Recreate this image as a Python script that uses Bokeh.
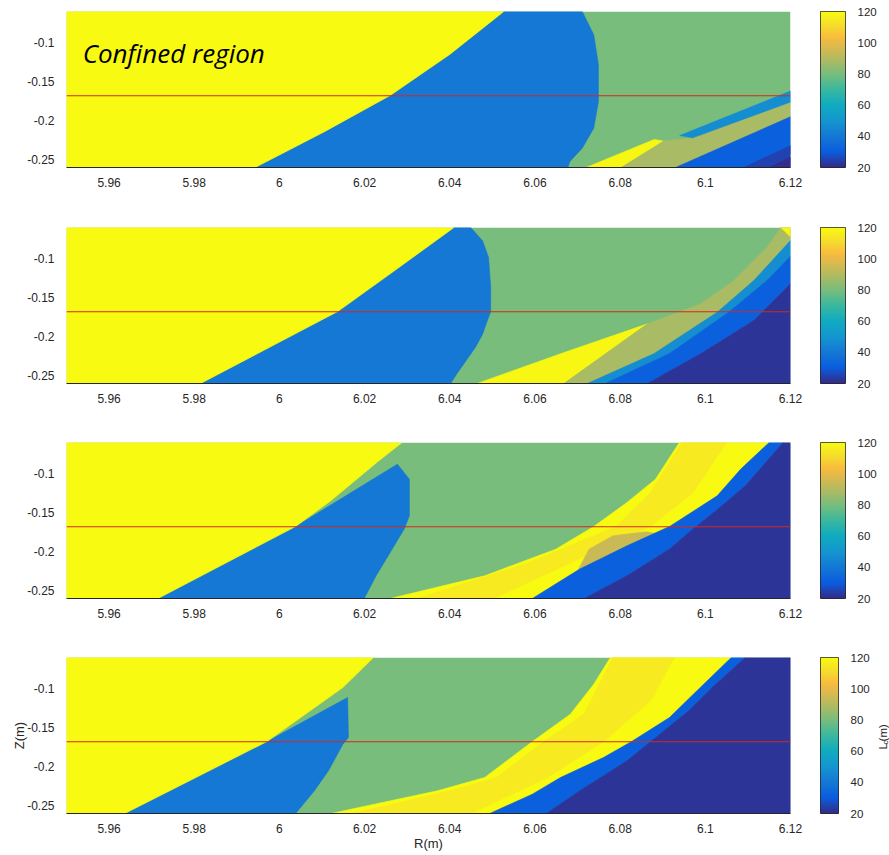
import numpy as np
from bokeh.plotting import figure
from bokeh.layouts import column, row
from bokeh.models import (ColumnDataSource, LinearColorMapper, FixedTicker,
                          Span, Label, CustomJSTickFormatter, Range1d)
from bokeh.core.properties import value
from bokeh.transform import transform
from bokeh.embed import file_html
from bokeh.resources import INLINE

# ---------------- data ----------------
R_RANGE = (5.95, 6.12)
Z_RANGE = (-0.26, -0.06)
R_TICKS = [5.96, 5.98, 6.0, 6.02, 6.04, 6.06, 6.08, 6.1, 6.12]
Z_TICKS = [-0.25, -0.2, -0.15, -0.1]
LC_LOW, LC_HIGH = 20, 120
LC_TICKS = [20, 40, 60, 80, 100, 120]
SEPARATRIX_Z = -0.168
BACKGROUND_LC = 80

# regions per panel: (Lc value, R vertices, Z vertices), painted in order
PANEL1 = [
    (40, [5.9943, 6.0107, 6.0260, 6.0400, 6.0527, 6.0711, 6.0738, 6.0749, 6.0749, 6.0738, 6.0711, 6.0682, 6.0677],
         [-0.26, -0.2137, -0.1677, -0.115, -0.06, -0.06, -0.0899, -0.128, -0.1754, -0.2096, -0.2352, -0.2523, -0.26]),
    (120, [5.95, 6.0527, 6.0400, 6.0260, 6.0107, 5.9943, 5.95],
          [-0.06, -0.06, -0.115, -0.1677, -0.2137, -0.26, -0.26]),
    (88, [6.080, 6.093, 6.12, 6.12, 6.097, 6.090], [-0.26, -0.26, -0.195, -0.176, -0.222, -0.226]),
    (47, [6.094, 6.12, 6.12, 6.097], [-0.219, -0.162, -0.176, -0.222]),
    (119, [6.072, 6.080, 6.090, 6.088], [-0.26, -0.26, -0.226, -0.224]),
    (31, [6.093, 6.112, 6.12, 6.12], [-0.26, -0.26, -0.243, -0.195]),
    (25, [6.109, 6.12, 6.12], [-0.26, -0.26, -0.232]),
    (21, [6.115, 6.12, 6.12], [-0.26, -0.26, -0.247]),
]

PANEL2 = [
    (40, [5.9815, 5.9976, 6.0137, 6.027, 6.0410, 6.0449, 6.0477, 6.0491, 6.0496, 6.0496, 6.0488, 6.0477, 6.0460, 6.0438, 6.0416, 6.0402],
         [-0.26, -0.2138, -0.1677, -0.1155, -0.06, -0.06, -0.0771, -0.0984, -0.1369, -0.1677, -0.1796, -0.1967, -0.2138, -0.2309, -0.2480, -0.26]),
    (120, [5.95, 6.0410, 6.027, 6.0137, 5.9976, 5.9815, 5.95],
          [-0.06, -0.06, -0.1155, -0.1677, -0.2138, -0.26, -0.26]),
    (119, [6.0464, 6.0668, 6.0864, 6.066], [-0.26, -0.26, -0.1835, -0.2219]),
    (88, [6.0668, 6.0723, 6.0879, 6.1028, 6.1114, 6.12, 6.12, 6.1177, 6.1145, 6.1067, 6.0989, 6.0864],
         [-0.26, -0.26, -0.2219, -0.1686, -0.128, -0.0767, -0.06, -0.06, -0.0852, -0.128, -0.1578, -0.1835]),
    (47, [6.0723, 6.0765, 6.0915, 6.1055, 6.1145, 6.12, 6.12, 6.1114, 6.1028, 6.0879],
         [-0.26, -0.26, -0.2219, -0.1686, -0.128, -0.097, -0.0767, -0.128, -0.1686, -0.2219]),
    (31, [6.0765, 6.0864, 6.0989, 6.1114, 6.12, 6.12, 6.1145, 6.1055, 6.0915],
         [-0.26, -0.26, -0.2219, -0.1792, -0.1322, -0.097, -0.128, -0.1686, -0.2219]),
    (22, [6.0864, 6.12, 6.12, 6.1114, 6.0989], [-0.26, -0.26, -0.1322, -0.1792, -0.2219]),
    (119, [6.1177, 6.12, 6.12], [-0.06, -0.06, -0.072]),
]

PANEL3 = [
    (40, [5.9715, 6.0038, 6.0277, 6.0305, 6.0305, 6.0293, 6.0260, 6.0227, 6.0199],
         [-0.26, -0.1677, -0.0878, -0.107, -0.154, -0.171, -0.2009, -0.2308, -0.26]),
    (120, [5.95, 6.0288, 6.0230, 6.0120, 6.0038, 5.9715, 5.95],
          [-0.06, -0.06, -0.085, -0.135, -0.1677, -0.26, -0.26]),
    (120, [6.0260, 6.0594, 6.0705, 6.0816, 6.0916, 6.1028, 6.1083, 6.1150, 6.0939, 6.0883, 6.0816, 6.0738, 6.0649, 6.0482],
          [-0.26, -0.26, -0.2223, -0.1925, -0.1677, -0.1284, -0.0942, -0.06, -0.06, -0.107, -0.1369, -0.1677, -0.1967, -0.2309]),
    (115, [6.0324, 6.058, 6.079, 6.087, 6.0945, 6.105, 6.097, 6.087, 6.070, 6.0503],
          [-0.26, -0.215, -0.168, -0.125, -0.06, -0.06, -0.125, -0.168, -0.21, -0.26]),
    (94, [6.0694, 6.0727, 6.0783, 6.0861, 6.0894, 6.0816, 6.0705],
         [-0.2309, -0.1967, -0.1796, -0.1745, -0.1775, -0.1925, -0.2223]),
    (31, [6.0594, 6.0716, 6.0816, 6.0916, 6.0961, 6.1039, 6.1094, 6.1183, 6.1150, 6.1083, 6.1028, 6.0916, 6.0816, 6.0705],
         [-0.26, -0.26, -0.2309, -0.1967, -0.1754, -0.1412, -0.1155, -0.06, -0.06, -0.0942, -0.1284, -0.1677, -0.1925, -0.2223]),
    (22, [6.0716, 6.12, 6.12, 6.1183, 6.1094, 6.1039, 6.0961, 6.0916, 6.0816],
         [-0.26, -0.26, -0.06, -0.06, -0.1155, -0.1412, -0.1754, -0.1967, -0.2309]),
]

PANEL4 = [
    (40, [5.9637, 5.9971, 6.0160, 6.0162, 6.0149, 6.0115, 6.0082, 6.0038],
         [-0.26, -0.1677, -0.1113, -0.1625, -0.1711, -0.2053, -0.2309, -0.26]),
    (120, [5.95, 6.0221, 6.0149, 5.9971, 5.9637, 5.95],
          [-0.06, -0.06, -0.0985, -0.1677, -0.26, -0.26]),
    (120, [6.0121, 6.0494, 6.0594, 6.066, 6.0761, 6.0827, 6.0916, 6.0972, 6.1061, 6.0777, 6.0738, 6.0683, 6.0594, 6.0482, 6.0371],
          [-0.26, -0.26, -0.2352, -0.2138, -0.1882, -0.1677, -0.1369, -0.107, -0.06, -0.06, -0.0942, -0.1327, -0.1677, -0.2138, -0.2309]),
    (115, [6.0171, 6.040, 6.051, 6.062, 6.0715, 6.0783, 6.0927, 6.0872, 6.0761, 6.063, 6.0449],
          [-0.26, -0.2309, -0.2138, -0.1677, -0.1327, -0.06, -0.06, -0.1155, -0.1677, -0.2138, -0.26]),
    (31, [6.0494, 6.0627, 6.0705, 6.0816, 6.0872, 6.0961, 6.1016, 6.1094, 6.1061, 6.0972, 6.0916, 6.0827, 6.0761, 6.066, 6.0594],
         [-0.26, -0.26, -0.2309, -0.1925, -0.1677, -0.1284, -0.0985, -0.06, -0.06, -0.107, -0.1369, -0.1677, -0.1882, -0.2138, -0.2352]),
    (22, [6.0627, 6.12, 6.12, 6.1094, 6.1016, 6.0961, 6.0872, 6.0816, 6.0705],
         [-0.26, -0.26, -0.06, -0.06, -0.0985, -0.1284, -0.1677, -0.1925, -0.2309]),
]

COLORBAR_LABEL = ["L", "c", "(m)"]

# ---------------- colormap (parula-like) ----------------
PALETTE_POS = [0.0, 0.1, 0.2, 0.3, 0.4, 0.5, 0.6, 0.7, 0.8, 0.85, 0.9, 1.0]
PALETTE_HEX = ["#352a87", "#0a5ddf", "#1478d4", "#1496d0", "#10abc0", "#3ab8a0",
               "#78bd7c", "#b4ba60", "#e8ba48", "#fbc03a", "#f5d830", "#f8fa12"]


def build_palette(n=256):
    rgb = np.array([[int(h[i:i + 2], 16) for i in (1, 3, 5)] for h in PALETTE_HEX], float)
    t = np.linspace(0, 1, n)
    cols = []
    for tt in t:
        r, g, b = (np.interp(tt, PALETTE_POS, rgb[:, k]) for k in range(3))
        cols.append("#%02x%02x%02x" % (int(round(r)), int(round(g)), int(round(b))))
    return cols


mapper = LinearColorMapper(palette=build_palette(), low=LC_LOW, high=LC_HIGH)

TEXT_COLOR = "#262626"
TICK_FONT = "Liberation Sans"
fmt_code = "return String(Number(tick.toFixed(2)));"
MAIN_W = 820


def make_panel(regions, height, top, bottom, last=False):
    p = figure(width=MAIN_W, height=height,
               x_range=Range1d(*R_RANGE), y_range=Range1d(*Z_RANGE),
               output_backend="svg", toolbar_location=None,
               min_border_left=66, min_border_right=30,
               min_border_top=top, min_border_bottom=bottom)
    p.outline_line_color = None
    p.grid.visible = False

    bg = ColumnDataSource(dict(l=[R_RANGE[0]], r=[R_RANGE[1]], b=[Z_RANGE[0]], t=[Z_RANGE[1]], lc=[BACKGROUND_LC]))
    p.quad(left="l", right="r", bottom="b", top="t", source=bg,
           fill_color=transform("lc", mapper), line_color=None)

    src = ColumnDataSource(dict(xs=[r[1] for r in regions], ys=[r[2] for r in regions],
                                lc=[r[0] for r in regions]))
    p.patches("xs", "ys", source=src, fill_color=transform("lc", mapper),
              line_color=transform("lc", mapper), line_width=0.6)

    p.add_layout(Span(location=SEPARATRIX_Z, dimension="width", line_color="#d42a1e", line_width=1.2))

    for ax in (p.xaxis[0], p.yaxis[0]):
        ax.major_tick_line_color = None
        ax.minor_tick_line_color = None
        ax.major_label_text_font = TICK_FONT
        ax.major_label_text_font_size = "12px"
        ax.major_label_text_color = TEXT_COLOR
        ax.formatter = CustomJSTickFormatter(code=fmt_code)
        ax.axis_label_text_font = TICK_FONT
        ax.axis_label_text_font_size = "13px"
        ax.axis_label_text_font_style = "normal"
        ax.axis_label_text_color = TEXT_COLOR
    p.xaxis.ticker = FixedTicker(ticks=R_TICKS)
    p.yaxis.ticker = FixedTicker(ticks=Z_TICKS)
    p.xaxis.axis_line_color = "#262626"
    p.yaxis.axis_line_color = None
    p.xaxis.major_label_standoff = 4
    p.yaxis.major_label_standoff = 6

    if last:
        p.xaxis.axis_label = "R(m)"
        p.yaxis.axis_label = "Z(m)"
        p.xaxis.axis_label_standoff = 0
        p.yaxis.axis_label_standoff = -3
    return p


def make_cbar(width, height, top, bottom):
    c = figure(width=width, height=height, x_range=Range1d(0, 1), y_range=Range1d(LC_LOW, LC_HIGH),
               x_axis_location=None, y_axis_location="right",
               output_backend="svg", toolbar_location=None,
               min_border_left=0, min_border_right=width - 25,
               min_border_top=top, min_border_bottom=bottom)
    c.grid.visible = False
    c.image(image=[np.linspace(LC_LOW, LC_HIGH, 256).reshape(-1, 1)], x=0, y=LC_LOW,
            dw=1, dh=LC_HIGH - LC_LOW, color_mapper=mapper)
    c.outline_line_color = "#262626"
    c.outline_line_width = 1
    ax = c.yaxis[0]
    ax.ticker = FixedTicker(ticks=LC_TICKS)
    ax.major_tick_line_color = None
    ax.minor_tick_line_color = None
    ax.axis_line_color = None
    ax.major_label_standoff = 6
    ax.major_label_text_font = TICK_FONT
    ax.major_label_text_font_size = "11.5px"
    ax.major_label_text_color = TEXT_COLOR
    return c


p1 = make_panel(PANEL1, 215, 11, 48)
p1.add_layout(Label(x=5.9538, y=-0.1126, text="Confined region", text_font="Open Sans",
                    text_font_style="italic", text_font_size="26px", text_color="black",
                    text_baseline="middle"))
p2 = make_panel(PANEL2, 215, 12, 47)
p3 = make_panel(PANEL3, 215, 12, 47)
p4 = make_panel(PANEL4, 210, 12, 42, last=True)

c1 = make_cbar(889 - MAIN_W, 215, 11, 48)
c2 = make_cbar(889 - MAIN_W, 215, 12, 47)
c3 = make_cbar(889 - MAIN_W, 215, 12, 47)
c4 = make_cbar(889 - MAIN_W - 17, 210, 12, 42)

# narrow strip to the right of the last colour bar holding its rotated label
side = figure(width=17, height=210, x_range=Range1d(0, 17), y_range=Range1d(0, 210),
              output_backend="svg", toolbar_location=None,
              min_border_left=0, min_border_right=0, min_border_top=0, min_border_bottom=0)
side.axis.visible = False
side.grid.visible = False
side.outline_line_color = None
side_src = ColumnDataSource(dict(x=[10, 13, 10], y=[86, 93, 97], t=COLORBAR_LABEL,
                                 fs=["11.5px", "8px", "11.5px"]))
side.text(x="x", y="y", text="t", source=side_src, angle=np.pi / 2,
          text_font=value(TICK_FONT), text_font_size="fs", text_color=TEXT_COLOR,
          text_baseline="alphabetic", text_align="left")

layout = column(row(p1, c1, spacing=0), row(p2, c2, spacing=0), row(p3, c3, spacing=0),
                row(p4, c4, side, spacing=0), spacing=0)
open("out.html", "w").write(file_html(layout, INLINE))
